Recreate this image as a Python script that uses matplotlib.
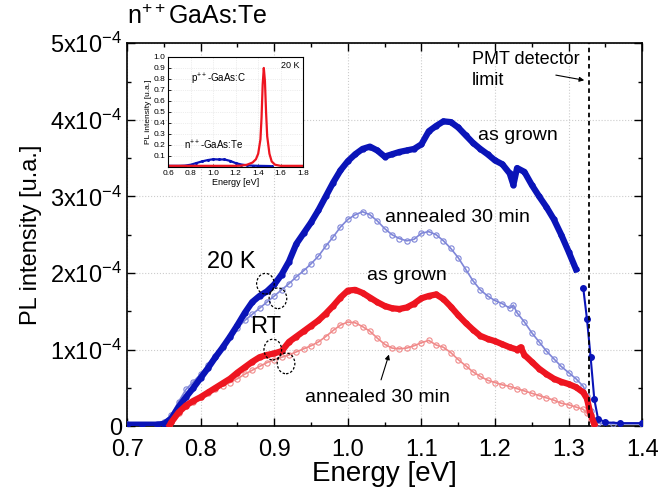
import matplotlib
matplotlib.use("Agg")
import matplotlib.pyplot as plt
from matplotlib.patches import Ellipse
from matplotlib.ticker import MultipleLocator, FixedLocator

plt.rcParams['font.family'] = ['Liberation Sans', 'DejaVu Sans']
plt.rcParams['mathtext.fontset'] = 'custom'
plt.rcParams['mathtext.rm'] = 'Liberation Sans'
plt.rcParams['mathtext.it'] = 'Liberation Sans:italic'
plt.rcParams['mathtext.bf'] = 'Liberation Sans:bold'

# 20 K, as grown (x1e-4)
e_20k_grown = [0.70, 0.72, 0.74, 0.75, 0.76, 0.77, 0.78, 0.79, 0.80, 0.81, 0.82, 0.83, 0.84,
               0.85, 0.86, 0.87, 0.88, 0.89, 0.90, 0.91, 0.92, 0.93, 0.94, 0.95, 0.96, 0.97,
               0.98, 0.99, 1.00, 1.01, 1.02, 1.03, 1.04, 1.05, 1.06, 1.07, 1.08, 1.09, 1.10,
               1.11, 1.12, 1.13, 1.14, 1.15, 1.16, 1.17, 1.18, 1.19, 1.20, 1.21, 1.22, 1.225,
               1.23, 1.24, 1.25, 1.26, 1.27, 1.28, 1.29, 1.30, 1.31, 1.32, 1.325, 1.33, 1.335,
               1.34, 1.35, 1.37, 1.40]
i_20k_grown = [0.02, 0.02, 0.02, 0.03, 0.10, 0.25, 0.38, 0.50, 0.63, 0.76, 0.90, 1.03, 1.17,
               1.32, 1.48, 1.62, 1.70, 1.76, 1.85, 1.98, 2.15, 2.38, 2.52, 2.66, 2.82, 3.00,
               3.18, 3.34, 3.46, 3.55, 3.62, 3.65, 3.60, 3.52, 3.55, 3.58, 3.60, 3.62, 3.68,
               3.85, 3.92, 3.98, 3.97, 3.90, 3.80, 3.70, 3.62, 3.55, 3.47, 3.42, 3.30, 3.15,
               3.37, 3.32, 3.15, 3.00, 2.86, 2.70, 2.50, 2.28, 2.05, 1.80, 1.40, 0.90, 0.35,
               0.10, 0.05, 0.04, 0.04]

# 20 K, annealed 30 min
e_20k_ann = [0.70, 0.74, 0.75, 0.76, 0.77, 0.78, 0.79, 0.80, 0.81, 0.82, 0.83, 0.84, 0.85,
             0.86, 0.87, 0.88, 0.89, 0.90, 0.91, 0.92, 0.93, 0.94, 0.95, 0.96, 0.97, 0.98,
             0.99, 1.00, 1.01, 1.02, 1.03, 1.04, 1.05, 1.06, 1.07, 1.08, 1.09, 1.10, 1.11,
             1.12, 1.13, 1.14, 1.15, 1.16, 1.17, 1.18, 1.19, 1.20, 1.21, 1.22, 1.225, 1.23,
             1.24, 1.25, 1.26, 1.27, 1.28, 1.29, 1.30, 1.31, 1.32, 1.325, 1.33, 1.335, 1.34,
             1.36, 1.40]
i_20k_ann = [0.03, 0.03, 0.05, 0.15, 0.32, 0.48, 0.58, 0.68, 0.80, 0.92, 1.05, 1.18, 1.28,
             1.38, 1.46, 1.54, 1.62, 1.70, 1.78, 1.86, 1.95, 2.03, 2.12, 2.22, 2.35, 2.47,
             2.60, 2.70, 2.76, 2.80, 2.76, 2.68, 2.58, 2.50, 2.45, 2.42, 2.44, 2.52, 2.54,
             2.50, 2.42, 2.32, 2.20, 2.05, 1.90, 1.78, 1.70, 1.64, 1.60, 1.54, 1.58, 1.48,
             1.36, 1.22, 1.10, 0.98, 0.88, 0.78, 0.70, 0.62, 0.52, 0.40, 0.20, 0.08, 0.04,
             0.03, 0.03]

# RT, as grown
e_rt_grown = [0.757, 0.76, 0.77, 0.78, 0.79, 0.80, 0.81, 0.82, 0.83, 0.84, 0.85, 0.86, 0.87,
              0.88, 0.89, 0.90, 0.91, 0.92, 0.93, 0.94, 0.95, 0.96, 0.97, 0.98, 0.99, 1.00,
              1.01, 1.02, 1.03, 1.04, 1.05, 1.06, 1.07, 1.08, 1.09, 1.10, 1.11, 1.12, 1.13,
              1.14, 1.15, 1.16, 1.17, 1.18, 1.19, 1.20, 1.21, 1.22, 1.23, 1.235, 1.24, 1.25,
              1.26, 1.27, 1.28, 1.29, 1.30, 1.31, 1.32, 1.325, 1.33, 1.335]
i_rt_grown = [0.00, 0.05, 0.18, 0.27, 0.33, 0.38, 0.44, 0.50, 0.56, 0.62, 0.70, 0.77, 0.84,
              0.90, 0.93, 0.95, 0.98, 1.10, 1.17, 1.24, 1.31, 1.38, 1.47, 1.57, 1.68, 1.77,
              1.78, 1.74, 1.68, 1.62, 1.57, 1.54, 1.53, 1.55, 1.60, 1.67, 1.70, 1.72, 1.66,
              1.56, 1.45, 1.35, 1.26, 1.18, 1.14, 1.11, 1.07, 1.03, 1.00, 1.03, 0.93, 0.84,
              0.75, 0.68, 0.62, 0.58, 0.55, 0.51, 0.44, 0.36, 0.15, 0.03]

# RT, annealed 30 min
e_rt_ann = [0.757, 0.76, 0.77, 0.78, 0.79, 0.80, 0.81, 0.82, 0.83, 0.84, 0.85, 0.86, 0.87,
            0.88, 0.89, 0.90, 0.91, 0.92, 0.93, 0.94, 0.95, 0.96, 0.97, 0.98, 0.99, 1.00,
            1.01, 1.02, 1.03, 1.04, 1.05, 1.06, 1.07, 1.08, 1.09, 1.10, 1.11, 1.12, 1.13,
            1.14, 1.15, 1.16, 1.17, 1.18, 1.19, 1.20, 1.21, 1.22, 1.23, 1.24, 1.25, 1.26,
            1.27, 1.28, 1.29, 1.30, 1.31, 1.32, 1.325, 1.33, 1.335]
i_rt_ann = [0.00, 0.05, 0.17, 0.26, 0.32, 0.38, 0.43, 0.48, 0.53, 0.57, 0.62, 0.68, 0.73,
            0.78, 0.83, 0.87, 0.90, 0.93, 0.97, 1.01, 1.05, 1.10, 1.17, 1.25, 1.32, 1.36,
            1.35, 1.30, 1.24, 1.15, 1.07, 1.02, 1.01, 1.02, 1.05, 1.09, 1.12, 1.06, 1.03,
            0.96, 0.87, 0.79, 0.71, 0.65, 0.60, 0.57, 0.54, 0.52, 0.49, 0.46, 0.43, 0.40,
            0.37, 0.34, 0.30, 0.28, 0.25, 0.22, 0.17, 0.08, 0.02]

# inset, 20 K normalised
e_in_te = [0.60, 0.70, 0.75, 0.80, 0.85, 0.90, 0.95, 1.00, 1.05, 1.10, 1.15, 1.20, 1.25,
           1.30, 1.35, 1.40, 1.45, 1.50, 1.52]
i_in_te = [0.010, 0.010, 0.012, 0.020, 0.035, 0.050, 0.062, 0.070, 0.068, 0.068, 0.055,
           0.035, 0.022, 0.015, 0.012, 0.010, 0.009, 0.008, 0.005]
e_in_c = [0.60, 0.80, 1.00, 1.20, 1.25, 1.30, 1.35, 1.38, 1.40, 1.42, 1.43, 1.44, 1.45,
          1.46, 1.47, 1.48, 1.50, 1.52, 1.55, 1.60, 1.70, 1.80]
i_in_c = [0.010, 0.010, 0.010, 0.010, 0.012, 0.020, 0.040, 0.070, 0.120, 0.250, 0.450,
          0.750, 0.900, 0.780, 0.500, 0.280, 0.120, 0.050, 0.020, 0.010, 0.010, 0.010]

pmt_limit = 1.328
scale = 1e-4

blue = '#0a14b8'
blue_light = '#7f86d8'
red = '#ee1520'
red_light = '#f08a8a'

fig = plt.figure(figsize=(6.62, 4.91), dpi=100)
ax = fig.add_axes([0.192, 0.132, 0.778, 0.780])

ax.plot(e_20k_ann, [v * scale for v in i_20k_ann], color=blue_light, lw=1.2,
        marker='o', ms=3.8, mfc='none', mec=blue_light, mew=0.8, zorder=3)
ax.plot(e_rt_ann, [v * scale for v in i_rt_ann], color=red_light, lw=1.2,
        marker='o', ms=3.8, mfc='none', mec=red_light, mew=0.8, zorder=3)
ax.plot(e_20k_grown[:-8], [v * scale for v in i_20k_grown[:-8]], color=blue, lw=4.5,
        marker='o', ms=3.5, mfc=blue, mec=blue, zorder=4)
ax.plot(e_20k_grown[-8:], [v * scale for v in i_20k_grown[-8:]], color=blue, lw=1.5,
        marker='o', ms=4, mfc=blue, mec=blue, zorder=4)
ax.plot(e_rt_grown, [v * scale for v in i_rt_grown], color=red, lw=4.5,
        marker='o', ms=3.5, mfc=red, mec=red, zorder=4)

ax.axvline(pmt_limit, color='black', ls=(0, (2.5, 2)), lw=1.3, zorder=5)

ax.set_xlim(0.7, 1.4)
ax.set_ylim(0, 5e-4)
ax.xaxis.set_minor_locator(MultipleLocator(0.05))
ax.yaxis.set_major_locator(FixedLocator([0, 1e-4, 2e-4, 3e-4, 4e-4, 5e-4]))
ax.yaxis.set_minor_locator(MultipleLocator(0.5e-4))
ax.set_xticks([0.7, 0.8, 0.9, 1.0, 1.1, 1.2, 1.3, 1.4])
ax.set_xticklabels(['0.7', '0.8', '0.9', '1.0', '1.1', '1.2', '1.3', '1.4'])
ax.set_yticklabels(['0'] + ['%dx10$^{\\mathregular{-4}}$' % k for k in range(1, 6)])
ax.tick_params(which='both', direction='in', top=True, right=True, labelsize=17, width=1)
ax.tick_params(which='major', length=6)
ax.tick_params(which='minor', length=3)
ax.tick_params(axis='x', pad=9)
ax.grid(True, which='major', color='#cccccc', ls=':', lw=0.8)
for s in ax.spines.values():
    s.set_linewidth(1.2)

ax.set_xlabel('Energy [eV]', fontsize=20, labelpad=0)
ax.set_ylabel('PL intensity [u.a.]', fontsize=17, labelpad=6)
fig.text(0.192, 0.94, 'n$^{\\mathregular{++}}$GaAs:Te', fontsize=18, ha='left', va='bottom')

ax.text(1.177, 3.79e-4, 'as grown', fontsize=14, va='center')
ax.text(1.051, 2.72e-4, 'annealed 30 min', fontsize=14, va='center')
ax.text(1.026, 1.97e-4, 'as grown', fontsize=14, va='center')
ax.text(0.942, 0.38e-4, 'annealed 30 min', fontsize=14, va='center')
ax.text(0.809, 2.14e-4, '20 K', fontsize=17, va='center')
ax.text(0.867, 1.30e-4, 'RT', fontsize=17, va='center')
ax.text(1.169, 4.65e-4, 'PMT detector\nlimit', fontsize=13, va='center', linespacing=1.3)
ax.annotate('', xy=(1.325, 4.51e-4), xytext=(1.279, 4.59e-4),
            arrowprops=dict(arrowstyle='-|>', color='black', lw=0.8, mutation_scale=7))
ax.annotate('', xy=(1.057, 0.97e-4), xytext=(1.044, 0.57e-4),
            arrowprops=dict(arrowstyle='-|>', color='black', lw=0.8, mutation_scale=7))

for cx, cy in [(0.888, 1.86e-4), (0.905, 1.67e-4), (0.898, 1.0e-4), (0.916, 0.82e-4)]:
    ax.add_patch(Ellipse((cx, cy), 0.024, 0.27e-4, fill=False, ec='black',
                         ls=(0, (2, 1.5)), lw=0.9, zorder=6))

# inset
ins = fig.add_axes([0.254, 0.660, 0.204, 0.224])
ins.plot(e_in_te, i_in_te, color=blue, lw=1.6, marker='o', ms=1.2)
ins.plot(e_in_c, i_in_c, color=red, lw=1.6)
ins.set_xlim(0.6, 1.8)
ins.set_ylim(0, 1.0)
ins.set_xticks([0.6, 0.8, 1.0, 1.2, 1.4, 1.6, 1.8])
ins.set_yticks([0.1, 0.2, 0.3, 0.4, 0.5, 0.6, 0.7, 0.8, 0.9, 1.0])
ins.tick_params(direction='in', labelsize=6, length=2, width=0.6, pad=2)
ins.grid(True, color='#dddddd', ls=':', lw=0.5)
for s in ins.spines.values():
    s.set_linewidth(0.8)
ins.set_xlabel('Energy [eV]', fontsize=6.5, labelpad=1)
ins.set_ylabel('PL intensity [u.a.]', fontsize=6, labelpad=1)
ins.text(1.05, 0.77, 'p$^{\\mathregular{++}}$-GaAs:C', fontsize=7, ha='center')
ins.text(1.0, 0.16, 'n$^{\\mathregular{++}}$-GaAs:Te', fontsize=7, ha='center')
ins.text(1.77, 0.92, '20 K', fontsize=6.5, ha='right', va='center')

fig.savefig('out.png', dpi=100)
